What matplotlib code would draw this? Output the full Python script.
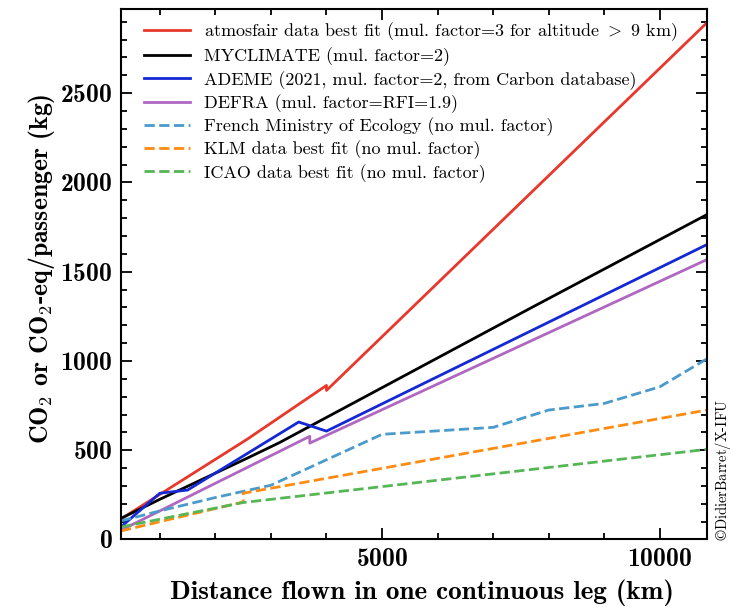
import numpy as np
import matplotlib
matplotlib.use("Agg")
import matplotlib.pyplot as plt
from matplotlib.ticker import MultipleLocator

plt.rcParams['mathtext.fontset'] = 'cm'
plt.rcParams['axes.formatter.use_mathtext'] = True

# distances (km) and emissions (kg)
atmosfair_x = [300, 2570, 4000, 4000, 10850]
atmosfair_y = [115, 561, 863, 835, 2895]

myclimate_x = [300, 1000, 2570, 3150, 7650, 10850]
myclimate_y = [118, 225, 455, 542, 1292, 1820]

ademe_x = [300, 1000, 1500, 3500, 4000, 10850]
ademe_y = [70, 259, 277, 658, 607, 1652]

defra_x = [300, 1000, 2570, 3700, 3700, 10850]
defra_y = [52, 160, 403, 578, 540, 1568]

ministry_x = [300, 1000, 2000, 3000, 5000, 7000, 8000, 9000, 10000, 10850]
ministry_y = [104, 160, 235, 304, 589, 628, 725, 762, 855, 1012]

klm_x = [300, 2500, 2500, 10850]
klm_y = [48, 210, 259, 725]

icao_x = [300, 2500, 10850]
icao_y = [70, 207, 505]

labels = [
    r'atmosfair data best fit (mul. factor=3 for altitude $>$ 9 km)',
    'MYCLIMATE (mul. factor=2)',
    'ADEME (2021, mul. factor=2, from Carbon database)',
    'DEFRA (mul. factor=RFI=1.9)',
    'French Ministry of Ecology (no mul. factor)',
    'KLM data best fit (no mul. factor)',
    'ICAO data best fit (no mul. factor)',
]

fig = plt.figure(figsize=(7.33, 6.10), dpi=100)
ax = fig.add_axes([0.165, 0.1156, 0.7995, 0.8692])

lw = 2
ax.plot(atmosfair_x, atmosfair_y, color='#e8382b', lw=lw, label=labels[0])
ax.plot(myclimate_x, myclimate_y, color='black', lw=lw, label=labels[1])
ax.plot(ademe_x, ademe_y, color='#1428d4', lw=lw, label=labels[2])
ax.plot(defra_x, defra_y, color='#b067c2', lw=lw, label=labels[3])
ax.plot(ministry_x, ministry_y, '--', color='#4a9acb', lw=lw, label=labels[4])
ax.plot(klm_x, klm_y, '--', color='#ff8c12', lw=lw, label=labels[5])
ax.plot(icao_x, icao_y, '--', color='#55b655', lw=lw, label=labels[6])

ax.set_xlim(300, 10850)
ax.set_ylim(0, 2970)
ax.xaxis.set_major_locator(MultipleLocator(5000))
ax.xaxis.set_minor_locator(MultipleLocator(1000))
ax.yaxis.set_major_locator(MultipleLocator(500))
ax.yaxis.set_minor_locator(MultipleLocator(100))
ax.tick_params(which='both', direction='in', top=True, right=True, width=1.3)
ax.tick_params(which='major', length=8, labelsize=18.5, pad=6)
ax.tick_params(which='minor', length=4)
for lab in ax.get_xticklabels() + ax.get_yticklabels():
    lab.set_family('cmb10')
for sp in ax.spines.values():
    sp.set_linewidth(1.5)

ax.set_xlabel('Distance flown in one continuous leg (km)', family='cmb10', fontsize=19.5, labelpad=6)
ax.set_ylabel(r'CO$_\mathbf{2}$ or CO$_\mathbf{2}$-eq/passenger (kg)', family='cmb10', fontsize=18.5, labelpad=2)
ax.xaxis.label.set_x(0.514)
ax.yaxis.label.set_y(0.511)

leg = ax.legend(loc='upper left', bbox_to_anchor=(0.027, 0.9925), borderaxespad=0, frameon=False,
                prop={'family': 'cmr10', 'size': 13},
                handlelength=2.55, labelspacing=0.25, handletextpad=0.8)

fig.text(0.986, 0.113, r'$\copyright$DidierBarret/X-IFU', rotation=90, ha='center', va='bottom',
         family='cmr10', fontsize=10.5)

fig.savefig('out.png', dpi=100)
